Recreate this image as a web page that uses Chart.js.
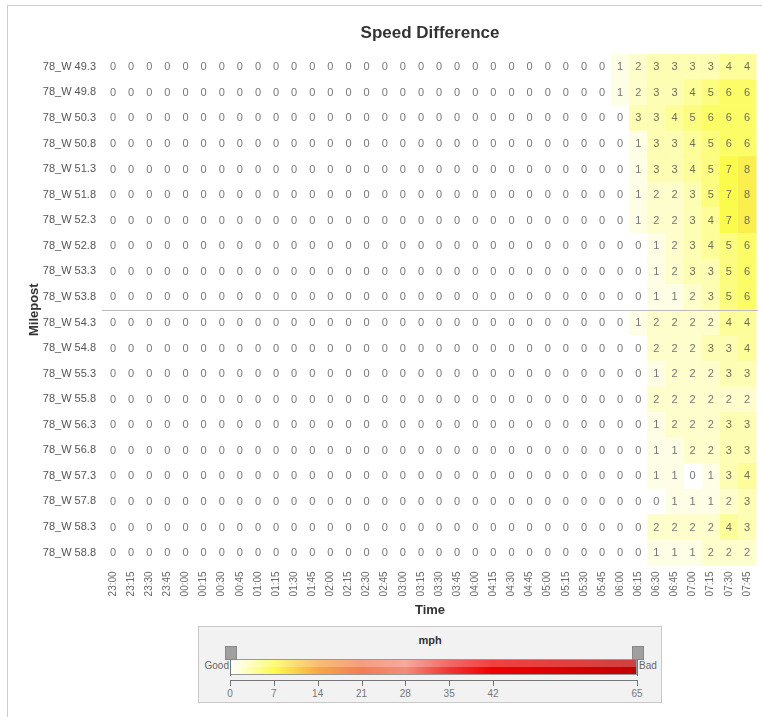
<!DOCTYPE html>
<html>
<head>
<meta charset="utf-8">
<script src="https://cdn.jsdelivr.net/npm/chart.js@4/dist/chart.umd.min.js"></script>
<style>
  body { margin: 0; background: #fff; font-family: "Liberation Sans", Arial, sans-serif; }
  #frame { position: absolute; left: 7px; top: 5px; width: 770px; height: 730px; border: 1px solid #ccc; }
  #wrap { position: absolute; left: 0; top: 0; width: 762px; height: 717px; }
  #scale { position: absolute; left: 198px; top: 626px; width: 462px; height: 75px; background: #f2f2f2; border: 1px solid #c8c8c8; }
  #scale .unit { position: absolute; left: 0; width: 100%; top: 7px; text-align: center; font-weight: bold; font-size: 11px; color: #333; }
  #bar { position: absolute; left: 31px; top: 32px; width: 407px; height: 16px; border: 1px solid #999; box-sizing: border-box; }
  #bar .gloss { position: absolute; left: 0; top: 0; right: 0; height: 50%; background: rgba(255,255,255,0.25); }
  .grip { position: absolute; top: 19px; width: 10px; height: 12px; background: #a0a0a0; border: 1px solid #888; }
  .grip::after { content: ""; position: absolute; left: 4px; top: 12px; width: 1px; height: 17px; background: #777; }
  .side { position: absolute; top: 33px; font-size: 10px; color: #666; }
  #axis { position: absolute; left: 31px; top: 53px; width: 407px; height: 1px; background: #777; }
  .tk { position: absolute; top: 53px; width: 1px; height: 6px; background: #777; }
  .tl { position: absolute; top: 61px; width: 30px; margin-left: -15px; text-align: center; font-size: 10px; color: #777; }
</style>
</head>
<body>
<div id="frame"></div>
<div id="wrap"><canvas id="heat" width="762" height="717"></canvas></div>
<div id="scale">
  <div class="unit">mph</div>
  <div class="side" style="right: 432px;">Good</div>
  <div class="side" style="left: 440px;">Bad</div>
  <div id="bar"><div class="gloss"></div></div>
  <div class="grip" style="left: 26px;"></div>
  <div class="grip" style="left: 433px;"></div>
  <div id="axis"></div>
</div>
<script>
// Speed difference heatmap: milepost x time

const times = ['23:00', '23:15', '23:30', '23:45', '00:00', '00:15', '00:30', '00:45', '01:00', '01:15', '01:30', '01:45',
  '02:00', '02:15', '02:30', '02:45', '03:00', '03:15', '03:30', '03:45', '04:00', '04:15', '04:30', '04:45',
  '05:00', '05:15', '05:30', '05:45', '06:00', '06:15', '06:30', '06:45', '07:00', '07:15', '07:30', '07:45'];

const mileposts = ['78_W 49.3', '78_W 49.8', '78_W 50.3', '78_W 50.8', '78_W 51.3', '78_W 51.8', '78_W 52.3',
  '78_W 52.8', '78_W 53.3', '78_W 53.8', '78_W 54.3', '78_W 54.8', '78_W 55.3', '78_W 55.8', '78_W 56.3',
  '78_W 56.8', '78_W 57.3', '78_W 57.8', '78_W 58.3', '78_W 58.8'];

// one row per milepost, one value per time slot
const speedDiff = [
  [0,0,0,0,0, 0,0,0,0,0, 0,0,0,0,0, 0,0,0,0,0, 0,0,0,0,0, 0,0,0,1,2,3,3,3,3,4,4],
  [0,0,0,0,0, 0,0,0,0,0, 0,0,0,0,0, 0,0,0,0,0, 0,0,0,0,0, 0,0,0,1,2,3,3,4,5,6,6],
  [0,0,0,0,0, 0,0,0,0,0, 0,0,0,0,0, 0,0,0,0,0, 0,0,0,0,0, 0,0,0,0,3,3,4,5,6,6,6],
  [0,0,0,0,0, 0,0,0,0,0, 0,0,0,0,0, 0,0,0,0,0, 0,0,0,0,0, 0,0,0,0,1,3,3,4,5,6,6],
  [0,0,0,0,0, 0,0,0,0,0, 0,0,0,0,0, 0,0,0,0,0, 0,0,0,0,0, 0,0,0,0,1,3,3,4,5,7,8],
  [0,0,0,0,0, 0,0,0,0,0, 0,0,0,0,0, 0,0,0,0,0, 0,0,0,0,0, 0,0,0,0,1,2,2,3,5,7,8],
  [0,0,0,0,0, 0,0,0,0,0, 0,0,0,0,0, 0,0,0,0,0, 0,0,0,0,0, 0,0,0,0,1,2,2,3,4,7,8],
  [0,0,0,0,0, 0,0,0,0,0, 0,0,0,0,0, 0,0,0,0,0, 0,0,0,0,0, 0,0,0,0,0,1,2,3,4,5,6],
  [0,0,0,0,0, 0,0,0,0,0, 0,0,0,0,0, 0,0,0,0,0, 0,0,0,0,0, 0,0,0,0,0,1,2,3,3,5,6],
  [0,0,0,0,0, 0,0,0,0,0, 0,0,0,0,0, 0,0,0,0,0, 0,0,0,0,0, 0,0,0,0,0,1,1,2,3,5,6],
  [0,0,0,0,0, 0,0,0,0,0, 0,0,0,0,0, 0,0,0,0,0, 0,0,0,0,0, 0,0,0,0,1,2,2,2,2,4,4],
  [0,0,0,0,0, 0,0,0,0,0, 0,0,0,0,0, 0,0,0,0,0, 0,0,0,0,0, 0,0,0,0,0,2,2,2,3,3,4],
  [0,0,0,0,0, 0,0,0,0,0, 0,0,0,0,0, 0,0,0,0,0, 0,0,0,0,0, 0,0,0,0,0,1,2,2,2,3,3],
  [0,0,0,0,0, 0,0,0,0,0, 0,0,0,0,0, 0,0,0,0,0, 0,0,0,0,0, 0,0,0,0,0,2,2,2,2,2,2],
  [0,0,0,0,0, 0,0,0,0,0, 0,0,0,0,0, 0,0,0,0,0, 0,0,0,0,0, 0,0,0,0,0,1,2,2,2,3,3],
  [0,0,0,0,0, 0,0,0,0,0, 0,0,0,0,0, 0,0,0,0,0, 0,0,0,0,0, 0,0,0,0,0,1,1,2,2,3,3],
  [0,0,0,0,0, 0,0,0,0,0, 0,0,0,0,0, 0,0,0,0,0, 0,0,0,0,0, 0,0,0,0,0,1,1,0,1,3,4],
  [0,0,0,0,0, 0,0,0,0,0, 0,0,0,0,0, 0,0,0,0,0, 0,0,0,0,0, 0,0,0,0,0,0,1,1,1,2,3],
  [0,0,0,0,0, 0,0,0,0,0, 0,0,0,0,0, 0,0,0,0,0, 0,0,0,0,0, 0,0,0,0,0,2,2,2,2,4,3],
  [0,0,0,0,0, 0,0,0,0,0, 0,0,0,0,0, 0,0,0,0,0, 0,0,0,0,0, 0,0,0,0,0,1,1,1,2,2,2]
];

// colour scale (mph)
const scaleValues = [0, 7, 14, 21, 28, 35, 42, 65];
const scaleColors = ['#ffffff', '#fbfb4e', '#f6a844', '#f47c56', '#f38c7c', '#ef3636', '#ee0000', '#c20000'];

function hexToRgb(h) {
  return [parseInt(h.slice(1, 3), 16), parseInt(h.slice(3, 5), 16), parseInt(h.slice(5, 7), 16)];
}

function colorFor(v) {
  for (let i = 1; i < scaleValues.length; i++) {
    if (v <= scaleValues[i]) {
      const t = (v - scaleValues[i - 1]) / (scaleValues[i] - scaleValues[i - 1]);
      const a = hexToRgb(scaleColors[i - 1]), b = hexToRgb(scaleColors[i]);
      const c = a.map((x, k) => Math.round(x + (b[k] - x) * t));
      return 'rgb(' + c.join(',') + ')';
    }
  }
  return scaleColors[scaleColors.length - 1];
}

// legend bar: first seven stops evenly spaced, last stop at the end
const barWidth = 407;
function barPos(v) {
  if (v <= 42) return v / 42 * 263;
  return 263 + (v - 42) / 23 * (barWidth - 263);
}

const legendBox = document.getElementById('scale');
document.getElementById('bar').style.background = 'linear-gradient(to right, ' +
  scaleValues.map((v, i) => scaleColors[i] + ' ' + (barPos(v) / barWidth * 100).toFixed(2) + '%').join(', ') + ')';
scaleValues.forEach(v => {
  const tk = document.createElement('div');
  tk.className = 'tk';
  tk.style.left = (31 + barPos(v)) + 'px';
  legendBox.appendChild(tk);
  const tl = document.createElement('div');
  tl.className = 'tl';
  tl.style.left = (31 + barPos(v)) + 'px';
  tl.textContent = v;
  legendBox.appendChild(tl);
});

const points = [];
mileposts.forEach((mp, r) => {
  times.forEach((t, c) => {
    points.push({ x: t, y: mp, v: speedDiff[r][c] });
  });
});

const heatCells = {
  id: 'heatCells',
  beforeDatasetsDraw(chart) {
    const ctx = chart.ctx;
    const xs = chart.scales.x, ys = chart.scales.y;
    const w = xs.width / times.length, h = ys.height / mileposts.length;
    const meta = chart.getDatasetMeta(0);
    ctx.save();
    meta.data.forEach((pt, i) => {
      ctx.fillStyle = colorFor(points[i].v);
      ctx.fillRect(pt.x - w / 2, pt.y - h / 2, w + 0.6, h + 0.6);
    });
    // divider between 53.8 and 54.3
    const yMid = (ys.getPixelForValue(9) + ys.getPixelForValue(10)) / 2;
    ctx.strokeStyle = '#bbbbbb';
    ctx.lineWidth = 1;
    ctx.beginPath();
    ctx.moveTo(chart.chartArea.left - 2, Math.round(yMid) + 0.5);
    ctx.lineTo(chart.chartArea.right + 2, Math.round(yMid) + 0.5);
    ctx.stroke();
    ctx.restore();
  },
  afterDatasetsDraw(chart) {
    const ctx = chart.ctx;
    const meta = chart.getDatasetMeta(0);
    ctx.save();
    ctx.font = '11px "Liberation Sans", Arial, sans-serif';
    ctx.textAlign = 'center';
    ctx.textBaseline = 'middle';
    meta.data.forEach((pt, i) => {
      ctx.fillStyle = points[i].v > 2 ? '#6f6f5a' : '#777777';
      ctx.fillText(points[i].v, pt.x, pt.y + 0.5);
    });
    ctx.restore();
  },
  afterDraw(chart) {
    const ctx = chart.ctx;
    const ca = chart.chartArea;
    ctx.save();
    ctx.font = 'bold 17px "Liberation Sans", Arial, sans-serif';
    ctx.fillStyle = '#333333';
    ctx.textAlign = 'center';
    ctx.textBaseline = 'middle';
    ctx.fillText('Speed Difference', (ca.left + ca.right) / 2, 33);
    ctx.restore();
  }
};

new Chart(document.getElementById('heat').getContext('2d'), {
  type: 'scatter',
  data: {
    datasets: [{
      data: points,
      pointRadius: 0,
      pointHoverRadius: 0
    }]
  },
  options: {
    responsive: false,
    animation: false,
    events: [],
    layout: { padding: { top: 54, right: 6, bottom: 95, left: 23 } },
    plugins: {
      legend: { display: false },
      tooltip: { enabled: false }
    },
    scales: {
      x: {
        type: 'category',
        labels: times,
        offset: true,
        afterFit(scale) { scale.paddingLeft = 0; scale.paddingRight = 0; },
        grid: { display: false, drawTicks: false },
        border: { display: false },
        ticks: {
          autoSkip: false,
          minRotation: 90,
          maxRotation: 90,
          padding: 6,
          color: '#666',
          font: { family: '"Liberation Sans", Arial, sans-serif', size: 10 }
        },
        title: {
          display: true,
          text: 'Time',
          color: '#333',
          padding: { top: 0, bottom: 4 },
          font: { family: '"Liberation Sans", Arial, sans-serif', size: 13, weight: 'bold' }
        }
      },
      y: {
        type: 'category',
        labels: mileposts,
        offset: true,
        afterFit(scale) { scale.width = 81; },
        grid: { display: false, drawTicks: false },
        border: { display: false },
        ticks: {
          autoSkip: false,
          padding: 8,
          color: '#555',
          font: { family: '"Liberation Sans", Arial, sans-serif', size: 11 }
        },
        title: {
          display: true,
          text: 'Milepost',
          color: '#333',
          padding: { top: 4, bottom: 4 },
          font: { family: '"Liberation Sans", Arial, sans-serif', size: 13, weight: 'bold' }
        }
      }
    }
  },
  plugins: [heatCells]
});
</script>
</body>
</html>
